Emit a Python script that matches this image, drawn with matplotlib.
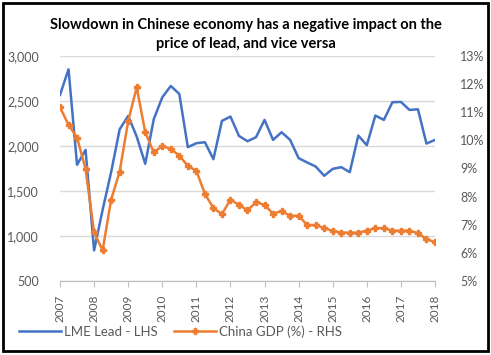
import matplotlib.pyplot as plt
from matplotlib.patches import Rectangle

# quarterly, 2007Q1 .. 2018Q1
quarters = [2007 + i / 4 for i in range(45)]
lme_lead = [2567, 2852, 1791, 1957, 840, 1290, 1710, 2186, 2334, 2105, 1802, 2297,
            2541, 2667, 2578, 1987, 2031, 2042, 1853, 2279, 2327, 2112, 2053, 2098,
            2290, 2068, 2153, 2068, 1865, 1817, 1772, 1669, 1746, 1765, 1709, 2116,
            2009, 2338, 2290, 2486, 2490, 2401, 2408, 2027, 2068]
china_gdp = [11.18, 10.55, 10.10, 8.98, 6.73, 6.09, 7.89, 8.89, 10.69, 11.89, 10.29, 9.57,
             9.80, 9.69, 9.46, 9.09, 8.92, 8.10, 7.59, 7.38, 7.89, 7.71, 7.51, 7.80,
             7.71, 7.39, 7.49, 7.32, 7.32, 6.99, 6.99, 6.88, 6.78, 6.72, 6.72, 6.72,
             6.79, 6.88, 6.88, 6.79, 6.79, 6.79, 6.70, 6.49, 6.38]
years = list(range(2007, 2019))
lead_ticks = [500, 1000, 1500, 2000, 2500, 3000]
gdp_ticks = [5, 6, 7, 8, 9, 10, 11, 12, 13]

plt.rcParams['font.family'] = ['Lato', 'DejaVu Sans']
grey = '#595959'

fig = plt.figure(figsize=(4.91, 3.55), dpi=100)
ax = fig.add_axes([60 / 491, 1 - 281 / 355, 375 / 491, 225 / 355])
ax2 = ax.twinx()

ax.set_ylim(500, 3000)
ax.set_yticks(lead_ticks)
ax.set_yticklabels([f"{v:,}" for v in lead_ticks])
ax.grid(axis='y', color='#d9d9d9', linewidth=1)
ax.set_axisbelow(True)
ax.set_xlim(2007, 2018)
ax.set_xticks(years)
ax.set_xticklabels([str(y) for y in years], rotation=90)

ax2.set_ylim(5, 13)
ax2.set_yticks(gdp_ticks)
ax2.set_yticklabels([f"{v}%" for v in gdp_ticks])

for a in (ax, ax2):
    for s in ('top', 'left', 'right'):
        a.spines[s].set_visible(False)
    a.spines['bottom'].set_color('#bfbfbf')
    a.tick_params(axis='y', length=0, labelsize=9, labelcolor=grey)
ax.tick_params(axis='y', pad=15)
ax2.tick_params(axis='y', pad=18)
ax.tick_params(axis='x', length=4, color='#bfbfbf', labelsize=8.5, labelcolor=grey, pad=6)

l1, = ax.plot(quarters, lme_lead, color='#4472C4', lw=1.8, label='LME Lead - LHS')
l2, = ax2.plot(quarters, china_gdp, color='#ED7D31', lw=1.8, marker='P', ms=4,
               label='China GDP (%) - RHS')

fig.legend(handles=[l1, l2], loc='lower left', bbox_to_anchor=(0.015, 0.015), ncol=2,
           frameon=False, fontsize=9.5, labelcolor=grey, handlelength=3.2,
           columnspacing=1.2, handletextpad=0.2)

fig.text(0.5, 0.857, "Slowdown in Chinese economy has a negative impact on the\nprice of lead, and vice versa",
         ha='center', va='bottom', fontsize=10.5, fontweight='bold', linespacing=1.45)

fig.patches.append(Rectangle((0.006, 0.01), 0.988, 0.982, transform=fig.transFigure,
                             fill=False, edgecolor='black', linewidth=2))

fig.savefig('out.png', dpi=100)
